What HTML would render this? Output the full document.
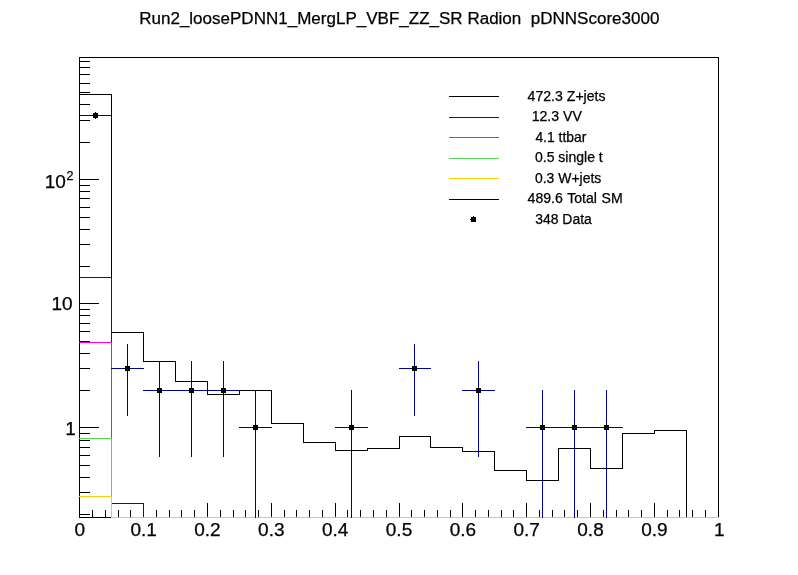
<!DOCTYPE html>
<html><head><meta charset="utf-8"><title>Run2_loosePDNN1_MergLP_VBF_ZZ_SR Radion pDNNScore3000</title>
<style>
html,body{margin:0;padding:0;background:#fff;}
body{width:798px;height:575px;overflow:hidden;}
svg{display:block;}
svg text{font-family:"Liberation Sans",sans-serif;fill:#000;stroke:#000;stroke-width:0.25px;}
</style></head><body>
<svg width="798" height="575" viewBox="0 0 798 575">
<rect x="0" y="0" width="798" height="575" fill="#fff"/>
<g shape-rendering="crispEdges"><rect x="79" y="57" width="640" height="1" fill="#000"/><rect x="79" y="517" width="640" height="1" fill="#000"/><rect x="79" y="57" width="1" height="461" fill="#000"/><rect x="718" y="57" width="1" height="461" fill="#000"/><rect x="79" y="503" width="1" height="15" fill="#000"/><rect x="92" y="510" width="1" height="8" fill="#000"/><rect x="105" y="510" width="1" height="8" fill="#000"/><rect x="118" y="510" width="1" height="8" fill="#000"/><rect x="130" y="510" width="1" height="8" fill="#000"/><rect x="143" y="503" width="1" height="15" fill="#000"/><rect x="156" y="510" width="1" height="8" fill="#000"/><rect x="169" y="510" width="1" height="8" fill="#000"/><rect x="181" y="510" width="1" height="8" fill="#000"/><rect x="194" y="510" width="1" height="8" fill="#000"/><rect x="207" y="503" width="1" height="15" fill="#000"/><rect x="220" y="510" width="1" height="8" fill="#000"/><rect x="233" y="510" width="1" height="8" fill="#000"/><rect x="245" y="510" width="1" height="8" fill="#000"/><rect x="258" y="510" width="1" height="8" fill="#000"/><rect x="271" y="503" width="1" height="15" fill="#000"/><rect x="284" y="510" width="1" height="8" fill="#000"/><rect x="296" y="510" width="1" height="8" fill="#000"/><rect x="309" y="510" width="1" height="8" fill="#000"/><rect x="322" y="510" width="1" height="8" fill="#000"/><rect x="335" y="503" width="1" height="15" fill="#000"/><rect x="347" y="510" width="1" height="8" fill="#000"/><rect x="360" y="510" width="1" height="8" fill="#000"/><rect x="373" y="510" width="1" height="8" fill="#000"/><rect x="386" y="510" width="1" height="8" fill="#000"/><rect x="399" y="503" width="1" height="15" fill="#000"/><rect x="411" y="510" width="1" height="8" fill="#000"/><rect x="424" y="510" width="1" height="8" fill="#000"/><rect x="437" y="510" width="1" height="8" fill="#000"/><rect x="450" y="510" width="1" height="8" fill="#000"/><rect x="462" y="503" width="1" height="15" fill="#000"/><rect x="475" y="510" width="1" height="8" fill="#000"/><rect x="488" y="510" width="1" height="8" fill="#000"/><rect x="501" y="510" width="1" height="8" fill="#000"/><rect x="513" y="510" width="1" height="8" fill="#000"/><rect x="526" y="503" width="1" height="15" fill="#000"/><rect x="539" y="510" width="1" height="8" fill="#000"/><rect x="552" y="510" width="1" height="8" fill="#000"/><rect x="564" y="510" width="1" height="8" fill="#000"/><rect x="577" y="510" width="1" height="8" fill="#000"/><rect x="590" y="503" width="1" height="15" fill="#000"/><rect x="603" y="510" width="1" height="8" fill="#000"/><rect x="616" y="510" width="1" height="8" fill="#000"/><rect x="628" y="510" width="1" height="8" fill="#000"/><rect x="641" y="510" width="1" height="8" fill="#000"/><rect x="654" y="503" width="1" height="15" fill="#000"/><rect x="667" y="510" width="1" height="8" fill="#000"/><rect x="679" y="510" width="1" height="8" fill="#000"/><rect x="692" y="510" width="1" height="8" fill="#000"/><rect x="705" y="510" width="1" height="8" fill="#000"/><rect x="718" y="503" width="1" height="15" fill="#000"/><rect x="79" y="514" width="11" height="1" fill="#000"/><rect x="79" y="492" width="11" height="1" fill="#000"/><rect x="79" y="477" width="11" height="1" fill="#000"/><rect x="79" y="465" width="11" height="1" fill="#000"/><rect x="79" y="455" width="11" height="1" fill="#000"/><rect x="79" y="447" width="11" height="1" fill="#000"/><rect x="79" y="440" width="11" height="1" fill="#000"/><rect x="79" y="433" width="11" height="1" fill="#000"/><rect x="79" y="427" width="20" height="1" fill="#000"/><rect x="79" y="390" width="11" height="1" fill="#000"/><rect x="79" y="368" width="11" height="1" fill="#000"/><rect x="79" y="353" width="11" height="1" fill="#000"/><rect x="79" y="341" width="11" height="1" fill="#000"/><rect x="79" y="331" width="11" height="1" fill="#000"/><rect x="79" y="323" width="11" height="1" fill="#000"/><rect x="79" y="315" width="11" height="1" fill="#000"/><rect x="79" y="309" width="11" height="1" fill="#000"/><rect x="79" y="303" width="20" height="1" fill="#000"/><rect x="79" y="266" width="11" height="1" fill="#000"/><rect x="79" y="244" width="11" height="1" fill="#000"/><rect x="79" y="229" width="11" height="1" fill="#000"/><rect x="79" y="217" width="11" height="1" fill="#000"/><rect x="79" y="207" width="11" height="1" fill="#000"/><rect x="79" y="198" width="11" height="1" fill="#000"/><rect x="79" y="191" width="11" height="1" fill="#000"/><rect x="79" y="185" width="11" height="1" fill="#000"/><rect x="79" y="179" width="20" height="1" fill="#000"/><rect x="79" y="142" width="11" height="1" fill="#000"/><rect x="79" y="120" width="11" height="1" fill="#000"/><rect x="79" y="104" width="11" height="1" fill="#000"/><rect x="79" y="92" width="11" height="1" fill="#000"/><rect x="79" y="83" width="11" height="1" fill="#000"/><rect x="79" y="74" width="11" height="1" fill="#000"/><rect x="79" y="67" width="11" height="1" fill="#000"/><rect x="79" y="61" width="11" height="1" fill="#000"/><rect x="79" y="94" width="33" height="1" fill="#000"/><rect x="111" y="94" width="1" height="239" fill="#000"/><rect x="111" y="332" width="33" height="1" fill="#000"/><rect x="143" y="332" width="1" height="30" fill="#000"/><rect x="143" y="361" width="33" height="1" fill="#000"/><rect x="175" y="361" width="1" height="21" fill="#000"/><rect x="175" y="381" width="33" height="1" fill="#000"/><rect x="207" y="381" width="1" height="14" fill="#000"/><rect x="207" y="394" width="33" height="1" fill="#000"/><rect x="239" y="390" width="1" height="5" fill="#000"/><rect x="239" y="390" width="33" height="1" fill="#000"/><rect x="271" y="390" width="1" height="34" fill="#000"/><rect x="271" y="423" width="33" height="1" fill="#000"/><rect x="303" y="423" width="1" height="20" fill="#000"/><rect x="303" y="442" width="33" height="1" fill="#000"/><rect x="335" y="442" width="1" height="9" fill="#000"/><rect x="335" y="450" width="33" height="1" fill="#000"/><rect x="367" y="448" width="1" height="3" fill="#000"/><rect x="367" y="448" width="33" height="1" fill="#000"/><rect x="399" y="436" width="1" height="13" fill="#000"/><rect x="399" y="436" width="32" height="1" fill="#000"/><rect x="430" y="436" width="1" height="12" fill="#000"/><rect x="430" y="447" width="33" height="1" fill="#000"/><rect x="462" y="447" width="1" height="5" fill="#000"/><rect x="462" y="451" width="33" height="1" fill="#000"/><rect x="494" y="451" width="1" height="20" fill="#000"/><rect x="494" y="470" width="33" height="1" fill="#000"/><rect x="526" y="470" width="1" height="11" fill="#000"/><rect x="526" y="480" width="33" height="1" fill="#000"/><rect x="558" y="448" width="1" height="33" fill="#000"/><rect x="558" y="448" width="33" height="1" fill="#000"/><rect x="590" y="448" width="1" height="21" fill="#000"/><rect x="590" y="468" width="33" height="1" fill="#000"/><rect x="622" y="433" width="1" height="36" fill="#000"/><rect x="622" y="433" width="33" height="1" fill="#000"/><rect x="654" y="430" width="1" height="4" fill="#000"/><rect x="654" y="430" width="33" height="1" fill="#000"/><rect x="686" y="430" width="1" height="88" fill="#000"/><rect x="686" y="517" width="33" height="1" fill="#000"/><rect x="79" y="277" width="33" height="1" fill="#0000ff"/><rect x="111" y="277" width="1" height="227" fill="#0000ff"/><rect x="111" y="503" width="33" height="1" fill="#0000ff"/><rect x="143" y="503" width="1" height="15" fill="#0000ff"/><rect x="143" y="517" width="33" height="1" fill="#0000ff"/><rect x="175" y="517" width="33" height="1" fill="#0000ff"/><rect x="207" y="517" width="33" height="1" fill="#0000ff"/><rect x="239" y="517" width="33" height="1" fill="#0000ff"/><rect x="271" y="517" width="33" height="1" fill="#0000ff"/><rect x="303" y="517" width="33" height="1" fill="#0000ff"/><rect x="335" y="517" width="33" height="1" fill="#0000ff"/><rect x="367" y="517" width="33" height="1" fill="#0000ff"/><rect x="399" y="517" width="32" height="1" fill="#0000ff"/><rect x="430" y="517" width="33" height="1" fill="#0000ff"/><rect x="462" y="517" width="33" height="1" fill="#0000ff"/><rect x="494" y="517" width="33" height="1" fill="#0000ff"/><rect x="526" y="517" width="33" height="1" fill="#0000ff"/><rect x="558" y="517" width="33" height="1" fill="#0000ff"/><rect x="590" y="517" width="33" height="1" fill="#0000ff"/><rect x="622" y="517" width="33" height="1" fill="#0000ff"/><rect x="654" y="517" width="33" height="1" fill="#0000ff"/><rect x="686" y="517" width="33" height="1" fill="#0000ff"/><rect x="79" y="342" width="33" height="1" fill="#ff00ff"/><rect x="111" y="342" width="1" height="176" fill="#ff00ff"/><rect x="111" y="517" width="33" height="1" fill="#ff00ff"/><rect x="143" y="517" width="33" height="1" fill="#ff00ff"/><rect x="175" y="517" width="33" height="1" fill="#ff00ff"/><rect x="207" y="517" width="33" height="1" fill="#ff00ff"/><rect x="239" y="517" width="33" height="1" fill="#ff00ff"/><rect x="271" y="517" width="33" height="1" fill="#ff00ff"/><rect x="303" y="517" width="33" height="1" fill="#ff00ff"/><rect x="335" y="517" width="33" height="1" fill="#ff00ff"/><rect x="367" y="517" width="33" height="1" fill="#ff00ff"/><rect x="399" y="517" width="32" height="1" fill="#ff00ff"/><rect x="430" y="517" width="33" height="1" fill="#ff00ff"/><rect x="462" y="517" width="33" height="1" fill="#ff00ff"/><rect x="494" y="517" width="33" height="1" fill="#ff00ff"/><rect x="526" y="517" width="33" height="1" fill="#ff00ff"/><rect x="558" y="517" width="33" height="1" fill="#ff00ff"/><rect x="590" y="517" width="33" height="1" fill="#ff00ff"/><rect x="622" y="517" width="33" height="1" fill="#ff00ff"/><rect x="654" y="517" width="33" height="1" fill="#ff00ff"/><rect x="686" y="517" width="33" height="1" fill="#ff00ff"/><rect x="79" y="438" width="33" height="1" fill="#59d454"/><rect x="111" y="438" width="1" height="80" fill="#59d454"/><rect x="111" y="517" width="33" height="1" fill="#59d454"/><rect x="143" y="517" width="33" height="1" fill="#59d454"/><rect x="175" y="517" width="33" height="1" fill="#59d454"/><rect x="207" y="517" width="33" height="1" fill="#59d454"/><rect x="239" y="517" width="33" height="1" fill="#59d454"/><rect x="271" y="517" width="33" height="1" fill="#59d454"/><rect x="303" y="517" width="33" height="1" fill="#59d454"/><rect x="335" y="517" width="33" height="1" fill="#59d454"/><rect x="367" y="517" width="33" height="1" fill="#59d454"/><rect x="399" y="517" width="32" height="1" fill="#59d454"/><rect x="430" y="517" width="33" height="1" fill="#59d454"/><rect x="462" y="517" width="33" height="1" fill="#59d454"/><rect x="494" y="517" width="33" height="1" fill="#59d454"/><rect x="526" y="517" width="33" height="1" fill="#59d454"/><rect x="558" y="517" width="33" height="1" fill="#59d454"/><rect x="590" y="517" width="33" height="1" fill="#59d454"/><rect x="622" y="517" width="33" height="1" fill="#59d454"/><rect x="654" y="517" width="33" height="1" fill="#59d454"/><rect x="686" y="517" width="33" height="1" fill="#59d454"/><rect x="79" y="496" width="33" height="1" fill="#ffcc00"/><rect x="111" y="496" width="1" height="22" fill="#ffcc00"/><rect x="111" y="517" width="33" height="1" fill="#ffcc00"/><rect x="143" y="517" width="33" height="1" fill="#ffcc00"/><rect x="175" y="517" width="33" height="1" fill="#ffcc00"/><rect x="207" y="517" width="33" height="1" fill="#ffcc00"/><rect x="239" y="517" width="33" height="1" fill="#ffcc00"/><rect x="271" y="517" width="33" height="1" fill="#ffcc00"/><rect x="303" y="517" width="33" height="1" fill="#ffcc00"/><rect x="335" y="517" width="33" height="1" fill="#ffcc00"/><rect x="367" y="517" width="33" height="1" fill="#ffcc00"/><rect x="399" y="517" width="32" height="1" fill="#ffcc00"/><rect x="430" y="517" width="33" height="1" fill="#ffcc00"/><rect x="462" y="517" width="33" height="1" fill="#ffcc00"/><rect x="494" y="517" width="33" height="1" fill="#ffcc00"/><rect x="526" y="517" width="33" height="1" fill="#ffcc00"/><rect x="558" y="517" width="33" height="1" fill="#ffcc00"/><rect x="590" y="517" width="33" height="1" fill="#ffcc00"/><rect x="622" y="517" width="33" height="1" fill="#ffcc00"/><rect x="654" y="517" width="33" height="1" fill="#ffcc00"/><rect x="686" y="517" width="33" height="1" fill="#ffcc00"/><rect x="79" y="115" width="33" height="1" fill="#000099"/><rect x="95" y="112" width="1" height="7" fill="#000099"/><rect x="111" y="368" width="33" height="1" fill="#000099"/><rect x="127" y="344" width="1" height="72" fill="#000099"/><rect x="143" y="390" width="33" height="1" fill="#000099"/><rect x="159" y="361" width="1" height="96" fill="#000099"/><rect x="175" y="390" width="33" height="1" fill="#000099"/><rect x="191" y="361" width="1" height="96" fill="#000099"/><rect x="207" y="390" width="33" height="1" fill="#000099"/><rect x="223" y="361" width="1" height="96" fill="#000099"/><rect x="239" y="427" width="33" height="1" fill="#000099"/><rect x="255" y="390" width="1" height="128" fill="#000099"/><rect x="335" y="427" width="33" height="1" fill="#000099"/><rect x="351" y="390" width="1" height="128" fill="#000099"/><rect x="399" y="368" width="32" height="1" fill="#000099"/><rect x="414" y="344" width="1" height="72" fill="#000099"/><rect x="462" y="390" width="33" height="1" fill="#000099"/><rect x="478" y="361" width="1" height="96" fill="#000099"/><rect x="526" y="427" width="33" height="1" fill="#000099"/><rect x="542" y="390" width="1" height="128" fill="#000099"/><rect x="558" y="427" width="33" height="1" fill="#000099"/><rect x="574" y="390" width="1" height="128" fill="#000099"/><rect x="590" y="427" width="33" height="1" fill="#000099"/><rect x="606" y="390" width="1" height="128" fill="#000099"/><rect x="93" y="113" width="5" height="5" fill="#000"/><rect x="95" y="112" width="1" height="1" fill="#000"/><rect x="92" y="115" width="1" height="1" fill="#000"/><rect x="125" y="366" width="5" height="5" fill="#000"/><rect x="127" y="365" width="1" height="1" fill="#000"/><rect x="124" y="368" width="1" height="1" fill="#000"/><rect x="157" y="388" width="5" height="5" fill="#000"/><rect x="159" y="387" width="1" height="1" fill="#000"/><rect x="156" y="390" width="1" height="1" fill="#000"/><rect x="189" y="388" width="5" height="5" fill="#000"/><rect x="191" y="387" width="1" height="1" fill="#000"/><rect x="188" y="390" width="1" height="1" fill="#000"/><rect x="221" y="388" width="5" height="5" fill="#000"/><rect x="223" y="387" width="1" height="1" fill="#000"/><rect x="220" y="390" width="1" height="1" fill="#000"/><rect x="253" y="425" width="5" height="5" fill="#000"/><rect x="255" y="424" width="1" height="1" fill="#000"/><rect x="252" y="427" width="1" height="1" fill="#000"/><rect x="349" y="425" width="5" height="5" fill="#000"/><rect x="351" y="424" width="1" height="1" fill="#000"/><rect x="348" y="427" width="1" height="1" fill="#000"/><rect x="412" y="366" width="5" height="5" fill="#000"/><rect x="414" y="365" width="1" height="1" fill="#000"/><rect x="411" y="368" width="1" height="1" fill="#000"/><rect x="476" y="388" width="5" height="5" fill="#000"/><rect x="478" y="387" width="1" height="1" fill="#000"/><rect x="475" y="390" width="1" height="1" fill="#000"/><rect x="540" y="425" width="5" height="5" fill="#000"/><rect x="542" y="424" width="1" height="1" fill="#000"/><rect x="539" y="427" width="1" height="1" fill="#000"/><rect x="572" y="425" width="5" height="5" fill="#000"/><rect x="574" y="424" width="1" height="1" fill="#000"/><rect x="571" y="427" width="1" height="1" fill="#000"/><rect x="604" y="425" width="5" height="5" fill="#000"/><rect x="606" y="424" width="1" height="1" fill="#000"/><rect x="603" y="427" width="1" height="1" fill="#000"/><rect x="449" y="96" width="50" height="1" fill="#000"/><rect x="449" y="117" width="50" height="1" fill="#0000ff"/><rect x="449" y="137" width="50" height="1" fill="#ff00ff"/><rect x="449" y="158" width="50" height="1" fill="#59d454"/><rect x="449" y="178" width="50" height="1" fill="#ffcc00"/><rect x="449" y="199" width="50" height="1" fill="#000"/><rect x="471" y="217" width="5" height="5" fill="#000"/><rect x="473" y="216" width="1" height="1" fill="#000"/><rect x="470" y="219" width="1" height="1" fill="#000"/></g>
<g><text x="79.8" y="536" font-size="19" text-anchor="middle">0</text><text x="143.64" y="536" font-size="19" text-anchor="middle">0.1</text><text x="207.48000000000002" y="536" font-size="19" text-anchor="middle">0.2</text><text x="271.32" y="536" font-size="19" text-anchor="middle">0.3</text><text x="335.16" y="536" font-size="19" text-anchor="middle">0.4</text><text x="399.00000000000006" y="536" font-size="19" text-anchor="middle">0.5</text><text x="462.84000000000003" y="536" font-size="19" text-anchor="middle">0.6</text><text x="526.68" y="536" font-size="19" text-anchor="middle">0.7</text><text x="590.52" y="536" font-size="19" text-anchor="middle">0.8</text><text x="654.36" y="536" font-size="19" text-anchor="middle">0.9</text><text x="719.4000000000001" y="536" font-size="19" text-anchor="middle">1</text><text x="72.7" y="309.8" font-size="19" text-anchor="end">10</text><text x="75.8" y="434.8" font-size="19" text-anchor="end">1</text><text x="73.6" y="187.5" font-size="19" text-anchor="end">10<tspan font-size="12.6" dy="-7.9" dx="0.8">2</tspan></text><text x="399.3" y="24.45" font-size="17.02" text-anchor="middle" xml:space="preserve" style="white-space:pre">Run2_loosePDNN1_MergLP_VBF_ZZ_SR Radion  pDNNScore3000</text><text x="527.6" y="100.5" font-size="14.1" text-anchor="start">472.3 Z+jets</text><text x="531.7" y="121.1" font-size="14.1" text-anchor="start">12.3 VV</text><text x="535.4" y="141.6" font-size="13.9" text-anchor="start">4.1 ttbar</text><text x="535.0" y="162.1" font-size="14.0" text-anchor="start">0.5 single t</text><text x="535.0" y="182.7" font-size="13.95" text-anchor="start">0.3 W+jets</text><text x="527.6" y="203.2" font-size="14.1" text-anchor="start" word-spacing="0.7">489.6 Total SM</text><text x="535.2" y="223.7" font-size="13.95" text-anchor="start">348 Data</text></g>
</svg>
</body></html>
